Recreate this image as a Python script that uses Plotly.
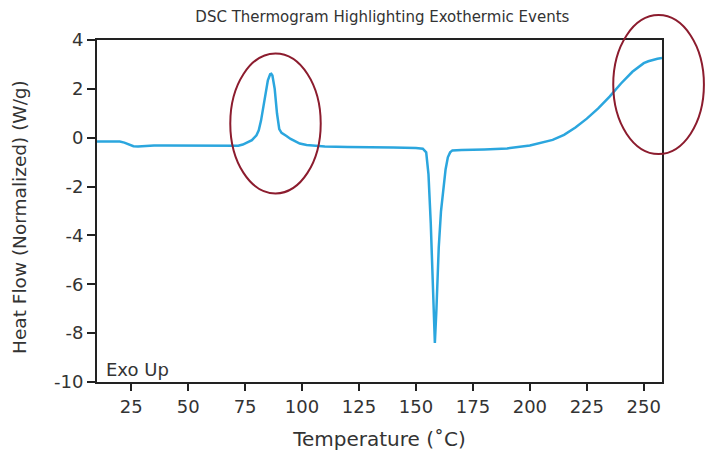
import plotly.graph_objects as go

# Data
temperature = [10, 15, 20, 22, 24, 26, 28, 30, 35, 40, 50, 60, 65, 70, 72, 74, 76, 78, 80, 81, 82, 83, 84, 85,
               86, 86.5, 87, 88, 89, 90, 91, 92, 93, 95, 97, 99, 102, 106, 110, 120, 130, 140, 150, 153, 154.5,
               155.5, 156.5, 157.5, 158.3, 159, 160, 161, 162, 163, 164, 165, 166, 168, 170, 180, 190, 200, 205,
               210, 215, 220, 225, 230, 235, 240, 245, 248, 250, 252, 254, 256, 258]
heat_flow = [-0.15, -0.15, -0.16, -0.2, -0.28, -0.35, -0.36, -0.34, -0.32, -0.32, -0.32, -0.33, -0.34, -0.35,
             -0.33, -0.28, -0.2, -0.1, 0.1, 0.3, 0.7, 1.2, 1.8, 2.35, 2.6, 2.62, 2.55, 2.0, 1.0, 0.35, 0.2, 0.15,
             0.08, -0.05, -0.15, -0.24, -0.3, -0.34, -0.36, -0.38, -0.38, -0.4, -0.42, -0.45, -0.6, -1.5, -3.5,
             -6.5, -8.4, -7.0, -4.5, -3.0, -2.0, -1.3, -0.8, -0.6, -0.52, -0.5, -0.5, -0.48, -0.44, -0.32, -0.22,
             -0.09, 0.12, 0.42, 0.78, 1.2, 1.68, 2.22, 2.7, 2.93, 3.05, 3.13, 3.19, 3.23, 3.26]

x_tick_vals = [25, 50, 75, 100, 125, 150, 175, 200, 225, 250]
y_tick_vals = [4, 2, 0, -2, -4, -6, -8, -10]
y_tick_text = ["4", "2", "0", "-2", "-4", "-6", "-8", "-10"]

x_range = [10, 258]
y_range = [-10, 4]

# Highlight ellipses in data units: (x0, x1, y0, y1)
highlights = [(68.5, 108.2, -2.28, 3.45), (236.6, 276.4, -0.67, 5.02)]

FONT = "DejaVu Sans"
TXT = "#333333"

fig = go.Figure()
fig.add_trace(go.Scatter(x=temperature, y=heat_flow, mode="lines",
                         line=dict(color="#2ba6de", width=2.5), showlegend=False))


def to_paper_x(v):
    return (v - x_range[0]) / (x_range[1] - x_range[0])


def to_paper_y(v):
    return (v - y_range[0]) / (y_range[1] - y_range[0])


for (x0, x1, y0, y1) in highlights:
    fig.add_shape(type="circle", xref="paper", yref="paper",
                  x0=to_paper_x(x0), x1=to_paper_x(x1), y0=to_paper_y(y0), y1=to_paper_y(y1),
                  line=dict(color="#8c1c2e", width=2), layer="above")

fig.add_annotation(text="Exo Up", xref="paper", yref="paper", x=0.013, y=0.0,
                   xanchor="left", yanchor="bottom", showarrow=False,
                   font=dict(family=FONT, size=18, color=TXT))

# y-axis title as a rotated annotation for precise placement
fig.add_annotation(text="Heat Flow (Normalized) (W/g)", xref="paper", yref="paper", x=-0.136, y=0.483,
                   xanchor="center", yanchor="middle", textangle=-90, showarrow=False,
                   font=dict(family=FONT, size=18.5, color=TXT))

fig.update_layout(
    width=712, height=454,
    margin=dict(l=97, r=50, t=40, b=72),
    paper_bgcolor="white", plot_bgcolor="white",
    title=dict(text="DSC Thermogram Highlighting Exothermic Events", x=0.537, xanchor="center",
               y=0.963, yanchor="middle", font=dict(family=FONT, size=15, color=TXT)),
    font=dict(family=FONT, color=TXT),
)
fig.update_xaxes(range=x_range, tickvals=x_tick_vals, ticks="outside", ticklen=7, tickwidth=2,
                 tickcolor="#222", showline=True, linecolor="#222", linewidth=2, mirror=True,
                 showgrid=False, zeroline=False, tickfont=dict(size=18, color=TXT), automargin=False,
                 title=dict(text="Temperature (˚C)", font=dict(size=20, color=TXT), standoff=16))
fig.update_yaxes(range=y_range, tickvals=y_tick_vals, ticktext=y_tick_text, ticks="outside", ticklen=8,
                 tickwidth=2, tickcolor="#222", showline=True, linecolor="#222", linewidth=2, mirror=True,
                 showgrid=False, zeroline=False, tickfont=dict(size=18, color=TXT), automargin=False)

fig.write_html("out.html")
